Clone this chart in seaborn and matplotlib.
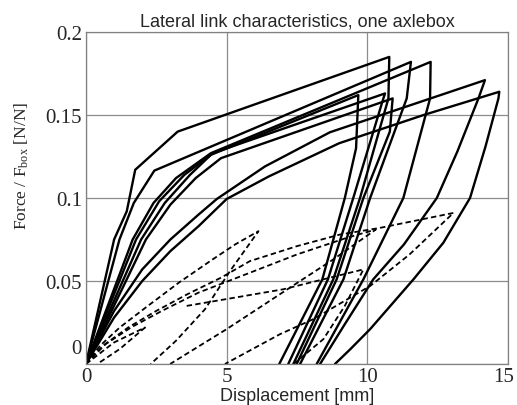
import matplotlib
matplotlib.use("Agg")
import matplotlib.pyplot as plt
import matplotlib.transforms as mtransforms
import pandas as pd
import seaborn as sns

# solid loops: loading branch from the origin to the peak, then the unloading branch
loop_a_disp = [0, 1.0, 1.45, 1.75, 3.26, 10.78, 10.75, 9.74, 8.79, 7.37]
loop_a_force = [0, 0.075, 0.092, 0.117, 0.14, 0.185, 0.16, 0.1, 0.051, 0]
loop_b_disp = [0, 1.19, 1.7, 2.43, 11.55, 11.4, 10.1, 9.15, 7.61]
loop_b_force = [0, 0.075, 0.097, 0.1165, 0.182, 0.16, 0.1, 0.051, 0]
loop_c_disp = [0, 1.66, 2.4, 3.2, 4.44, 12.25, 12.23, 11.28, 9.86, 8.2]
loop_c_force = [0, 0.075, 0.097, 0.112, 0.127, 0.182, 0.16, 0.1, 0.051, 0]
loop_d_disp = [0, 1, 2, 3, 4, 4.65, 6.36, 8.67, 14.18, 13.95, 13.2, 12.47, 11.3, 10.21, 9.2, 8.32]
loop_d_force = [0, 0.032, 0.057, 0.075, 0.09, 0.0994, 0.119, 0.1396, 0.171, 0.16, 0.128, 0.1, 0.072, 0.051, 0.024, 0]
loop_e_disp = [0, 1, 2, 3, 4, 5.0, 6.5, 9, 12, 14.69, 14.66, 14.2, 13.65, 12.7, 11.64, 10.1, 9.4, 8.85]
loop_e_force = [0, 0.028, 0.05, 0.068, 0.083, 0.0994, 0.113, 0.133, 0.15, 0.164, 0.16, 0.131, 0.1, 0.073, 0.051, 0.021, 0.009, 0]
loop_f_disp = [0, 1.78, 2.6, 3.5, 4.44, 9.68, 9.6, 9.2, 8.4, 6.87]
loop_f_force = [0, 0.075, 0.098, 0.114, 0.126, 0.162, 0.13, 0.1, 0.051, 0]
loop_g_disp = [0, 1.96, 2.8, 3.7, 4.5, 10.63, 10.57, 9.5, 8.6, 7.19]
loop_g_force = [0, 0.075, 0.097, 0.114, 0.127, 0.163, 0.16, 0.1, 0.051, 0]
loop_h_disp = [0, 2.13, 3.0, 3.9, 4.8, 10.9, 10.8, 9.86, 8.91, 7.49]
loop_h_force = [0, 0.075, 0.096, 0.112, 0.124, 0.16, 0.14, 0.1, 0.051, 0]

# dashed loops (smaller amplitude)
dash_1_disp = [0, 0.5, 1.2, 2.2, 3.3, 4.5, 5.33, 6.13, 5.12, 4.23, 3.2, 2.3]
dash_1_force = [0, 0.011, 0.022, 0.035, 0.049, 0.063, 0.0723, 0.08, 0.056, 0.033, 0.014, 0]
dash_2_disp = [0, 0.6, 1.5, 2.5, 3.6, 4.8, 5.83, 7.5, 9.03, 10.45, 13.06, 11.5, 10.1, 8.08, 6.9, 4.94]
dash_2_force = [0, 0.011, 0.022, 0.032, 0.042, 0.052, 0.062, 0.071, 0.078, 0.082, 0.091, 0.066, 0.047, 0.027, 0.018, 0]
dash_3_disp = [3.58, 7.01, 9.86, 9.2, 8.44, 7.38]
dash_3_force = [0.035, 0.045, 0.057, 0.035, 0.015, 0]
dash_4_disp = [0, 0.7, 1.6, 2.7, 4.0, 5.83, 7.5, 9.27, 10.3, 8.79, 7.25, 5.0, 2.99]
dash_4_force = [0, 0.012, 0.022, 0.032, 0.043, 0.055, 0.066, 0.076, 0.081, 0.063, 0.046, 0.021, 0]
dash_5_disp = [0, 1.0, 2.1, 1.2, 0.4]
dash_5_force = [0, 0.013, 0.022, 0.009, 0]

x_ticks = [0, 5, 10, 15]
y_ticks = [0, 0.05, 0.1, 0.15, 0.2]
y_tick_labels = ["0", "0.05", "0.1", "0.15", "0.2"]

LOOPS = [
    ("a", "solid", loop_a_disp, loop_a_force),
    ("b", "solid", loop_b_disp, loop_b_force),
    ("c", "solid", loop_c_disp, loop_c_force),
    ("d", "solid", loop_d_disp, loop_d_force),
    ("e", "solid", loop_e_disp, loop_e_force),
    ("f", "solid", loop_f_disp, loop_f_force),
    ("g", "solid", loop_g_disp, loop_g_force),
    ("h", "solid", loop_h_disp, loop_h_force),
    ("d1", "dashed", dash_1_disp, dash_1_force),
    ("d2", "dashed", dash_2_disp, dash_2_force),
    ("d3", "dashed", dash_3_disp, dash_3_force),
    ("d4", "dashed", dash_4_disp, dash_4_force),
    ("d5", "dashed", dash_5_disp, dash_5_force),
]


def build_frame():
    rows = []
    for name, kind, disp, force in LOOPS:
        for d, f in zip(disp, force):
            rows.append({"loop": name, "kind": kind, "disp": d, "force": f})
    return pd.DataFrame(rows)


def main():
    sns.set_style("white")
    plt.rcParams["font.family"] = ["Liberation Sans", "DejaVu Sans"]
    plt.rcParams["mathtext.fontset"] = "custom"
    plt.rcParams["mathtext.rm"] = "Liberation Serif"
    plt.rcParams["mathtext.it"] = "Liberation Serif:italic"

    df = build_frame()

    fig = plt.figure(figsize=(5.17, 4.06), dpi=100)
    ax = fig.add_axes([0.1663, 0.101, 0.8163, 0.8177])

    sns.lineplot(
        data=df,
        x="disp",
        y="force",
        units="loop",
        estimator=None,
        sort=False,
        style="kind",
        dashes={"solid": "", "dashed": (3, 1.8)},
        size="kind",
        sizes={"solid": 1.7, "dashed": 1.3},
        color="black",
        legend=False,
        ax=ax,
    )

    ax.set_xlim(0, 15)
    ax.set_ylim(0, 0.2)
    ax.set_xticks(x_ticks)
    ax.set_xticklabels([str(t) for t in x_ticks])
    ax.set_yticks(y_ticks)
    ax.set_yticklabels(y_tick_labels)
    ax.grid(True, color="#8c8c8c", linewidth=0.9)
    ax.set_axisbelow(True)
    for spine in ax.spines.values():
        spine.set_color("#808080")
        spine.set_linewidth(0.9)
    ax.tick_params(length=0, pad=3, labelsize=15)
    ax.tick_params(axis="x", pad=2)
    for label in ax.get_xticklabels() + ax.get_yticklabels():
        label.set_family("Liberation Serif")

    # the y "0" sits a bit above the axis so it doesn't clash with the x "0"
    zero = ax.get_yticklabels()[0]
    zero.set_transform(zero.get_transform() + mtransforms.ScaledTranslation(0, 13 / 72, fig.dpi_scale_trans))

    # keep "15" inside the figure edge
    last = ax.get_xticklabels()[-1]
    last.set_transform(last.get_transform() + mtransforms.ScaledTranslation(-3 / 72, 0, fig.dpi_scale_trans))

    ax.set_title("Lateral link characteristics, one axlebox", fontsize=13, pad=5)
    ax.set_xlabel("Displacement [mm]", fontsize=13)
    ax.xaxis.set_label_coords(0.5, -0.07)
    ax.set_ylabel("Force / F$_{\\mathrm{box}}$ [N/N]", fontsize=12.5, family="Liberation Serif")
    ax.yaxis.set_label_coords(-0.13, 0.6)

    fig.savefig("out.png", dpi=100)
    plt.close(fig)


if __name__ == "__main__":
    main()
